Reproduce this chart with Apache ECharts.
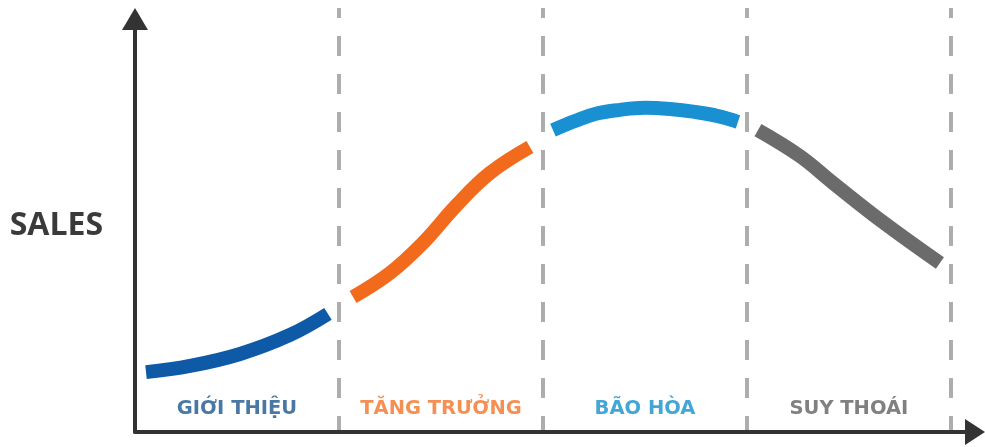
<!DOCTYPE html>
<html>
<head>
<meta charset="utf-8">
<script src="https://cdn.jsdelivr.net/npm/echarts@6/dist/echarts.min.js"></script>
<style>html,body{margin:0;padding:0;background:#fff}#c{width:985px;height:447px}</style>
</head>
<body>
<div id="c"></div>
<script>
// Stage names (Vietnamese product life cycle)
const stages = ['GIỚI THIỆU', 'TĂNG TRƯỞNG', 'BÃO HÒA', 'SUY THOÁI'];
// Curve points per stage: [time, sales]
const introData = [[0.054, 14.5], [0.27, 16.0], [0.515, 18.9], [0.76, 23.5], [0.946, 28.6]];
const growthData = [[1.069, 32.7], [1.25, 38.5], [1.412, 45.8], [1.578, 55.0], [1.74, 62.7], [1.936, 69.0]];
const maturityData = [[2.049, 73.1], [2.157, 75.3], [2.255, 77.0], [2.377, 78.0], [2.5, 78.5], [2.623, 78.2], [2.745, 77.5], [2.858, 76.5], [2.956, 75.1]];
const declineData = [[3.054, 73.1], [3.26, 66.8], [3.422, 60.3], [3.667, 50.8], [3.946, 40.9]];
const yAxisName = 'SALES';

const stageColors = ['#0e5aa6', '#f26a1b', '#1990d2', '#6b6b6b'];
const labelColors = ['#1b568f', '#f2742a', '#1490cc', '#606060'];
const seriesData = [introData, growthData, maturityData, declineData];
const X_MAX = 4.118;
const LABEL_LEVEL = 5.6;

const chart = echarts.init(document.getElementById('c'), null, {renderer: 'canvas'});

const series = seriesData.map((d, i) => ({
  type: 'line',
  xAxisIndex: 0, yAxisIndex: 0,
  data: d,
  smooth: 0.4,
  showSymbol: false,
  symbol: 'none',
  lineStyle: {width: 14, color: stageColors[i], cap: 'butt'},
  silent: true,
  z: 5
}));

series.push({
  type: 'scatter',
  xAxisIndex: 0, yAxisIndex: 0,
  symbolSize: 0,
  silent: true,
  data: stages.map((s, i) => ({
    value: [i + 0.5, LABEL_LEVEL],
    name: s,
    label: {color: labelColors[i]}
  })),
  label: {
    show: true,
    position: 'inside',
    formatter: p => p.name,
    fontFamily: '"DejaVu Sans", "Open Sans", sans-serif',
    fontWeight: 'bold',
    fontSize: 19.5
  },
  z: 6
});

chart.setOption({
  animation: false,
  backgroundColor: '#fff',
  grid: [
    {left: 135, right: 10, top: 19, bottom: 15},
    {left: 135, right: 10, top: 8, bottom: 15}
  ],
  xAxis: [
    {
      type: 'value', gridIndex: 0, min: 0, max: X_MAX,
      axisLine: {show: true, symbol: ['none', 'triangle'], symbolSize: [26, 20], lineStyle: {color: '#333', width: 4}},
      axisTick: {show: false}, axisLabel: {show: false}, splitLine: {show: false},
      z: 10
    },
    {
      type: 'value', gridIndex: 1, min: 0, max: X_MAX, interval: 1,
      axisLine: {show: false}, axisTick: {show: false}, axisLabel: {show: false},
      splitLine: {show: true, showMinLine: false, showMaxLine: false,
        lineStyle: {color: '#adadad', width: 4, type: [20, 18], dashOffset: 10}},
      z: 1
    }
  ],
  yAxis: [
    {
      type: 'value', gridIndex: 0, min: 0, max: 100,
      name: yAxisName, nameLocation: 'middle', nameRotate: 0, nameGap: 32,
      nameTextStyle: {fontFamily: '"Open Sans", Lato, sans-serif', fontWeight: 'bold', fontSize: 32, color: '#3a3a3a', padding: [0, 0, 8, 0]},
      axisLine: {show: true, symbol: ['none', 'triangle'], symbolSize: [26, 22], lineStyle: {color: '#333', width: 4}},
      axisTick: {show: false}, axisLabel: {show: false}, splitLine: {show: false},
      z: 10
    },
    {
      type: 'value', gridIndex: 1, min: 0, max: 100,
      axisLine: {show: false}, axisTick: {show: false}, axisLabel: {show: false}, splitLine: {show: false}
    }
  ],
  series: series
});
</script>
</body>
</html>
